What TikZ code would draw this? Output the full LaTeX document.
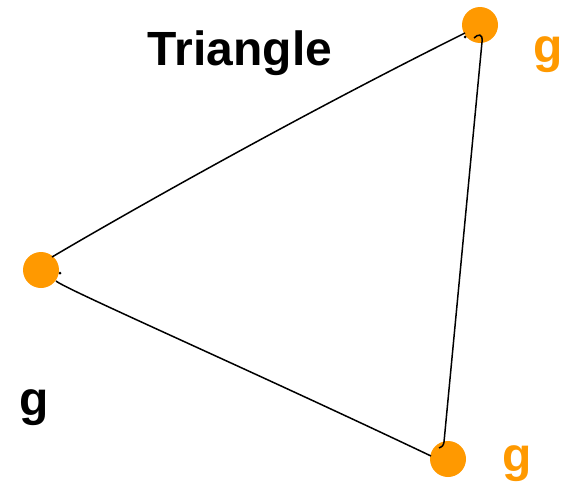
\documentclass[tikz,border=0pt]{standalone}
\usepackage{fontspec}
\setmainfont{Liberation Sans}
\usetikzlibrary{calc}
\definecolor{gorange}{RGB}{255,153,0}
\begin{document}
\begin{tikzpicture}[x=1pt,y=-1pt,
  dot/.style={circle,fill=gorange,minimum size=36pt,inner sep=0pt},
  lbl/.style={font=\fontsize{48}{52}\selectfont\bfseries,anchor=base,inner sep=0pt},
  edge/.style={line width=1.5pt,black},
  speck/.style={fill=black,circle,inner sep=0pt,minimum size=3pt}]
\useasboundingbox (0,0) rectangle (567,482);
\node[dot] (T) at (480,25) {};
\node[dot] (L) at (41,270) {};
\node[dot] (B) at (448,459) {};
\node[lbl] (title) at (240,65) {Triangle};
\node[lbl,text=gorange] (gT) at (548,62) {g};
\node[lbl,text=gorange] (gB) at (517,471) {g};
\node[lbl] (gL) at (34,415) {g};
% edges
\draw[edge] ($(L)+(11,-13)$) .. controls ($(L)+(60,-42)$) and ($(T)+(-200,100)$) .. ($(T)+(-15,8)$);
\draw[edge] ($(T)+(-6,13)$) .. controls ($(T)+(-2,9)$) and ($(T)+(3,8)$) .. ($(T)+(2,17)$)
  -- ($(B)+(-4,-17)$) .. controls ($(B)+(-5,-13)$) .. ($(B)+(-9,-11)$);
\draw[edge] ($(L)+(15,11)$) .. controls ($(L)+(24,19)$) and ($(B)+(-200,-90)$) .. ($(B)+(-17,-3)$);
\node[speck] (sT) at ($(T)+(-15,12)$) {};
\node[speck] (sL) at ($(L)+(19,3)$) {};
\end{tikzpicture}
\end{document}
